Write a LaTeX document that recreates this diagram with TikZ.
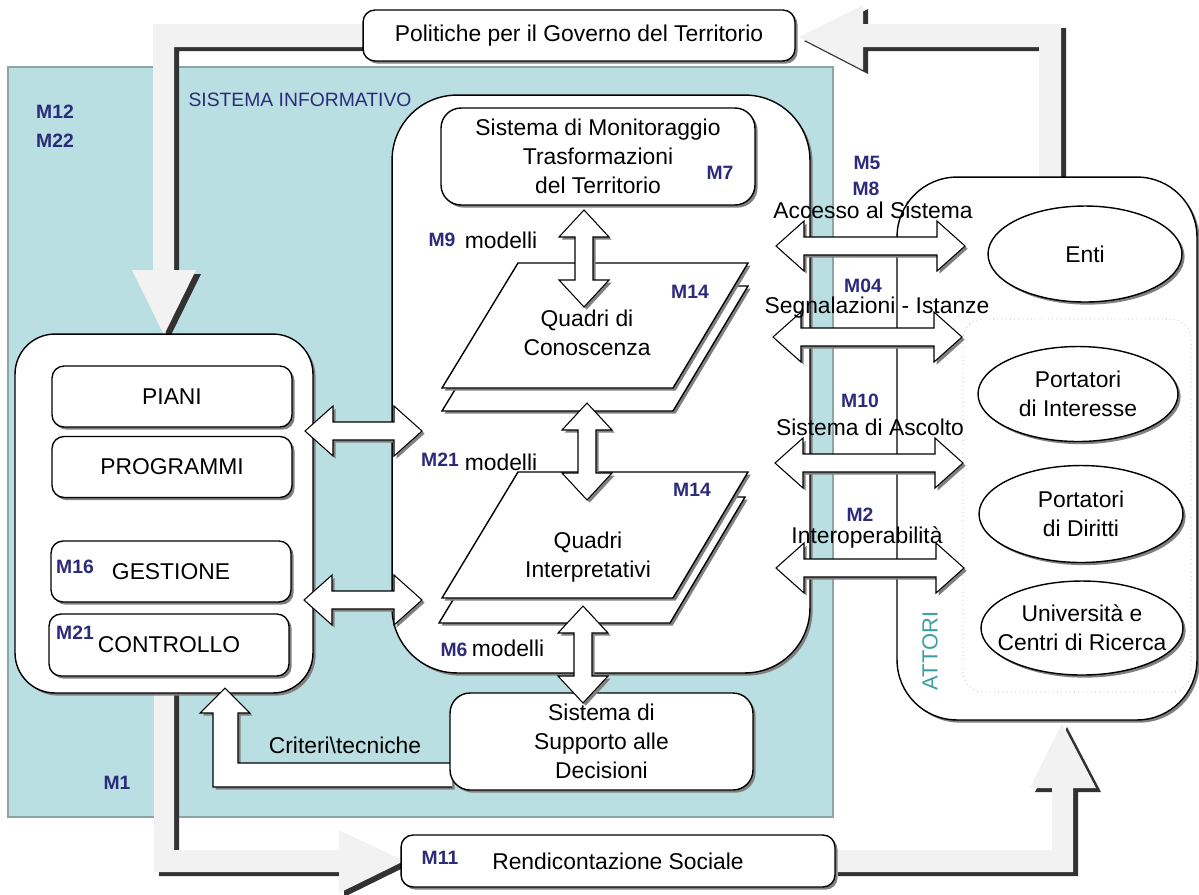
\documentclass[tikz,border=0pt]{standalone}
\usepackage{fontspec}
\setmainfont{Liberation Sans}
\usetikzlibrary{shapes.geometric, shadows, calc}

\definecolor{tealsis}{RGB}{186,223,226}
\definecolor{tealbordo}{RGB}{140,166,168}
\definecolor{tealtesto}{RGB}{60,160,162}
\definecolor{blum}{RGB}{44,42,122}
\definecolor{grigiof}{RGB}{242,242,242}
\definecolor{scuro}{RGB}{50,50,50}

\tikzset{
  ombra/.style={drop shadow={shadow xshift=1.5pt, shadow yshift=-1.5pt, fill=black!50, opacity=1}},
  sisbox/.style={draw=tealbordo, line width=1.6pt, fill=tealsis},
  blocco/.style={draw, line width=0.8pt, fill=white, ombra, rounded corners=0.24cm, inner sep=0pt, align=center},
  contenitore/.style={blocco, rounded corners=#1},
  attore/.style={draw, ellipse, line width=0.8pt, fill=white, ombra, inner sep=0pt},
  mlab/.style={text=blum, font=\fontsize{11}{13}\selectfont\bfseries, inner sep=0pt},
  testo/.style={inner sep=1pt},
  freccia/.style={draw, line width=0.6pt, fill=white, ombra},
  frecciona/.style={fill=grigiof, preaction={fill=scuro, transform canvas={shift={(0.1cm,-0.08cm)}}}},
  quadro/.style={draw, line width=0.8pt, fill=white, ombra},
}

% doppia freccia orizzontale / verticale tra due punte
\newcommand{\frecciaO}[2]{%
  \draw[freccia] let \p1=(#1), \p2=(#2) in
    (\p1) -- ++(28,-25) -- ++(0,16) -- (\x2-0.56cm,\y2+0.18cm) -- ++(0,-16) -- (\p2)
    -- ++(-28,25) -- ++(0,-16) -- (\x1+0.56cm,\y1-0.18cm) -- ++(0,16) -- cycle;}
\newcommand{\frecciaV}[2]{%
  \draw[freccia] let \p1=(#1), \p2=(#2) in
    (\p1) -- ++(25,27) -- ++(-16,0) -- (\x1+0.18cm,\y2+0.54cm) -- ++(16,0) -- (\p2)
    -- ++(-25,-27) -- ++(16,0) -- (\x1-0.18cm,\y1-0.54cm) -- ++(-16,0) -- cycle;}

\begin{document}
\begin{tikzpicture}[x=0.02cm, y=-0.02cm, font=\fontsize{13}{16.4}\selectfont]
\useasboundingbox (0,0) rectangle (1199,894);

% sistema informativo
\node[sisbox, minimum width=16.5cm, minimum height=15cm] (sis) at (420.5,442) {};
\node[text=blum, font=\fontsize{11}{13}\selectfont] (sistit) at (300,100) {SISTEMA INFORMATIVO};
\node[mlab] (m12) at (55,112) {M12};
\node[mlab] (m22) at (55,141) {M22};
\node[mlab] (m1) at (117,783) {M1};

% frecce grigie del ciclo
\path[frecciona] (363,24) -- (153,24) -- (153,270) -- (132,270) -- (164,335) -- (196,270)
  -- (174,270) -- (174,47) -- (363,47) -- cycle;
\path[frecciona] (1039,180) -- (1039,47) -- (863,47) -- (863,70) -- (799,37) -- (863,5)
  -- (863,24) -- (1061,24) -- (1061,180) -- cycle;
\path[frecciona] (154,690) -- (154,872) -- (339,872) -- (339,893) -- (404,861) -- (339,830)
  -- (339,850) -- (174,850) -- (174,690) -- cycle;
\path[frecciona] (833,850) -- (1052,850) -- (1052,788) -- (1030,788) -- (1062,723) -- (1096,788)
  -- (1073,788) -- (1073,872) -- (833,872) -- cycle;

\node[blocco, minimum width=8.64cm, minimum height=1.02cm] (pol) at (579,35.5) {Politiche per il Governo del Territorio};
\node[blocco, minimum width=8.68cm, minimum height=1.04cm] (ren) at (618,861) {Rendicontazione Sociale};
\node[mlab] (m11) at (440,858) {M11};

% piani e programmi
\node[contenitore=0.8cm, minimum width=5.96cm, minimum height=7.18cm] (gov) at (164,513.5) {};
\node[blocco, minimum width=4.8cm, minimum height=1.22cm] (piani) at (172,396.5) {PIANI};
\node[blocco, minimum width=4.8cm, minimum height=1.22cm] (progr) at (172,467) {PROGRAMMI};
\node[blocco, minimum width=4.8cm, minimum height=1.22cm] (gest) at (171,571.5) {GESTIONE};
\node[blocco, minimum width=4.8cm, minimum height=1.24cm] (contr) at (169,645) {CONTROLLO};
\node[mlab] (m16) at (75,567) {M16};
\node[mlab] (m21b) at (75,633) {M21};

% sistema territoriale
\node[contenitore=1.3cm, minimum width=8.36cm, minimum height=11.56cm] (sit) at (601,384) {};
\node[blocco, rounded corners=0.4cm, minimum width=6.28cm, minimum height=1.94cm] (mon) at (598,156.5)
  {Sistema di Monitoraggio\\Trasformazioni\\del Territorio};
\node[mlab] (m7) at (720,173) {M7};
\draw[quadro] (518,286) -- (748,286) -- (673,411) -- (442,411) -- cycle;
\draw[quadro] (518,263) -- (748,263) -- (673,388) -- (442,388) -- cycle;
\node[align=center] (qc) at (587,333) {Quadri di\\Conoscenza};
\node[mlab] (m14a) at (690,292) {M14};
\draw[quadro] (515,497) -- (745,497) -- (670,623) -- (439,623) -- cycle;
\draw[quadro] (518,472) -- (748,472) -- (673,598) -- (442,598) -- cycle;
\node[align=center] (qi) at (588,557) {Quadri\\Interpretativi};
\node[mlab] (m14b) at (692,490) {M14};
\node[mlab] (m9) at (442,240) {M9};
\node (mod1) at (501,240) {modelli};
\node[mlab] (m21a) at (440,460) {M21};
\node (mod2) at (501,462) {modelli};
\node[mlab] (m6) at (454,650) {M6};
\node (mod3) at (508,648) {modelli};

% attori
\node[contenitore=1.2cm, minimum width=6cm, minimum height=10.86cm] (att) at (1047,448.5) {};
\node[draw=gray!70, dotted, line width=0.4pt, rounded corners=0.4cm, minimum width=4.56cm,
  minimum height=7.46cm] (portatori) at (1077,505.5) {};
\node[attore, minimum width=3.88cm, minimum height=1.92cm, label=center:Enti] (enti) at (1085,254) {};
\node[attore, minimum width=4cm, minimum height=1.9cm,
  label={[align=center]center:Portatori\\di Interesse}] (pint) at (1078,394) {};
\node[attore, minimum width=4.08cm, minimum height=1.94cm,
  label={[align=center]center:Portatori\\di Diritti}] (pdir) at (1081,514) {};
\node[attore, minimum width=4.04cm, minimum height=1.88cm,
  label={[align=center]center:Università e\\Centri di Ricerca}] (univ) at (1082,628) {};
\node[rotate=90, text=tealtesto, font=\fontsize{12.5}{14}\selectfont] (attorit) at (930,651) {ATTORI};

% supporto alle decisioni
\draw[freccia] (452,763) -- (238,763) -- (238,713) -- (250,713) -- (225,688) -- (200,713)
  -- (213,713) -- (213,787) -- (452,787);
\node (crit) at (345,745) {Criteri\textbackslash tecniche};
\node[blocco, rounded corners=0.4cm, minimum width=6.06cm, minimum height=1.94cm] (sds) at (601.5,741.5)
  {Sistema di\\Supporto alle\\Decisioni};

% punte delle doppie frecce
\coordinate (pianS) at (305,431); \coordinate (pianD) at (422,431);
\coordinate (gestS) at (304,600); \coordinate (gestD) at (422,600);
\coordinate (monA) at (584,210); \coordinate (monB) at (584,307);
\coordinate (conA) at (587,403); \coordinate (conB) at (587,500);
\coordinate (intA) at (583,606); \coordinate (intB) at (583,703);
\coordinate (accS) at (776,246); \coordinate (accD) at (965,246);
\coordinate (segS) at (773,337); \coordinate (segD) at (962,337);
\coordinate (ascS) at (775,463); \coordinate (ascD) at (963,463);
\coordinate (iopS) at (776,568); \coordinate (iopD) at (964,568);

\frecciaO{pianS}{pianD}
\frecciaO{gestS}{gestD}
\frecciaV{monA}{monB}
\frecciaV{conA}{conB}
\frecciaV{intA}{intB}
\frecciaO{accS}{accD}
\frecciaO{segS}{segD}
\frecciaO{ascS}{ascD}
\frecciaO{iopS}{iopD}

\node[mlab] (m5) at (867,163) {M5};
\node[mlab] (m8) at (866,189) {M8};
\node[testo] (acc) at (873,210) {Accesso al Sistema};
\node[mlab] (m04) at (863,286) {M04};
\node[testo] (seg) at (877,308) {Segnalazioni - Istanze};
\node[mlab] (m10) at (860,401) {M10};
\node[testo] (asc) at (870,427) {Sistema di Ascolto};
\node[mlab] (m2) at (860,515) {M2};
\node[testo] (iop) at (867,537) {Interoperabilità};
\end{tikzpicture}
\end{document}
